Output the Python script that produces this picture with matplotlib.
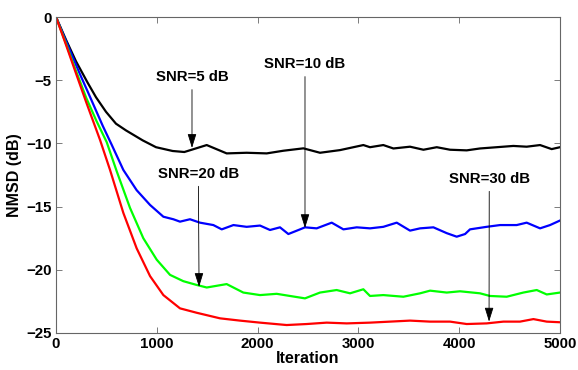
"""NMSD learning curves for four SNR levels."""

import matplotlib
matplotlib.use("Agg")
import matplotlib.pyplot as plt

plt.rcParams["font.family"] = ["Liberation Sans", "DejaVu Sans"]
plt.rcParams["font.weight"] = "bold"

# ---------------------------------------------------------------------------
# Data
# ---------------------------------------------------------------------------
snr5_x = [0, 99, 198, 314, 397, 496, 595, 694, 860, 992, 1157, 1273, 1346,
          1495, 1693, 1891, 2090, 2255, 2454, 2619, 2817, 3049, 3115, 3247,
          3347, 3512, 3645, 3777, 3909, 4074, 4206, 4372, 4537, 4669, 4802,
          4917, 5000]
snr5_y = [0, -1.8, -3.5, -5.2, -6.35, -7.5, -8.44, -8.97, -9.76, -10.3,
          -10.6, -10.68, -10.5, -10.13, -10.79, -10.74, -10.79, -10.58,
          -10.39, -10.74, -10.53, -10.13, -10.3, -10.13, -10.4, -10.26,
          -10.5, -10.3, -10.5, -10.55, -10.4, -10.3, -10.2, -10.26, -10.13,
          -10.45, -10.3]

snr10_x = [0, 99, 231, 331, 463, 552, 668, 800, 933, 1065, 1164, 1230, 1329,
           1428, 1561, 1644, 1760, 1891, 2024, 2123, 2222, 2305, 2421, 2470,
           2586, 2735, 2851, 2983, 3115, 3247, 3380, 3512, 3612, 3744, 3876,
           3975, 4058, 4107, 4272, 4405, 4570, 4669, 4802, 4901, 5000]
snr10_y = [0, -1.9, -4.4, -6.2, -8.6, -10.1, -12.1, -13.7, -14.87, -15.8,
           -16.0, -16.19, -16.0, -16.27, -16.46, -16.8, -16.46, -16.6, -16.5,
           -16.85, -16.64, -17.17, -16.8, -16.64, -16.72, -16.27, -16.8,
           -16.64, -16.72, -16.6, -16.27, -16.9, -16.72, -16.64, -17.1,
           -17.38, -17.17, -16.8, -16.6, -16.46, -16.46, -16.27, -16.72,
           -16.46, -16.1]

snr20_x = [0, 99, 200, 300, 400, 503, 602, 734, 866, 999, 1131, 1263, 1396,
           1495, 1693, 1858, 2024, 2189, 2321, 2470, 2619, 2784, 2917, 3049,
           3115, 3247, 3446, 3612, 3711, 3876, 4008, 4206, 4305, 4471, 4636,
           4769, 4868, 5000]
snr20_y = [0, -2.1, -4.3, -6.4, -8.2, -9.9, -12.2, -15.1, -17.5, -19.2,
           -20.4, -20.9, -21.2, -21.4, -21.13, -21.8, -22.0, -21.9, -22.07,
           -22.26, -21.8, -21.6, -21.86, -21.54, -22.07, -22.0, -22.13,
           -21.86, -21.65, -21.8, -21.7, -21.86, -22.07, -22.13, -21.8, -21.6,
           -21.95, -21.8]

snr30_x = [0, 99, 200, 300, 437, 536, 668, 800, 933, 1065, 1230, 1396, 1627,
           1825, 2024, 2288, 2487, 2685, 2884, 3115, 3313, 3512, 3711, 3909,
           4074, 4272, 4438, 4603, 4736, 4868, 5000]
snr30_y = [0, -2.2, -4.5, -6.75, -9.73, -12.1, -15.5, -18.3, -20.5, -22.0,
           -23.05, -23.4, -23.84, -24.02, -24.18, -24.37, -24.29, -24.18,
           -24.24, -24.18, -24.1, -24.02, -24.1, -24.1, -24.29, -24.24, -24.1,
           -24.1, -23.9, -24.1, -24.15]

# label text, text position, arrow tip
labels = ["SNR=5 dB", "SNR=10 dB", "SNR=20 dB", "SNR=30 dB"]
label_xy = [(1349, -4.75), (2470, -3.72), (1412, -12.4), (4298, -12.8)]
tip_xy = [(1349, -10.36), (2470, -16.7), (1419, -21.36), (4296, -24.1)]

# ---------------------------------------------------------------------------
# Figure
# ---------------------------------------------------------------------------
fig = plt.figure(figsize=(5.78, 3.70), dpi=100)
ax = fig.add_axes([0.0969, 0.1, 0.872, 0.854])

lw = 1.6
ax.plot(snr5_x, snr5_y, color="black", lw=lw)
ax.plot(snr10_x, snr10_y, color="blue", lw=lw)
ax.plot(snr20_x, snr20_y, color="#00ff00", lw=lw)
ax.plot(snr30_x, snr30_y, color="red", lw=lw)

for text, (tx, ty), (px, py) in zip(labels, label_xy, tip_xy):
    ax.annotate(
        text, xy=(px, py), xytext=(tx, ty),
        ha="center", va="center", fontsize=10.8, fontweight="bold",
        arrowprops=dict(arrowstyle="-|>,head_length=0.8,head_width=0.25",
                        color="black", lw=0.6, shrinkA=2, shrinkB=0),
    )

ax.set_xlim(0, 5000)
ax.set_ylim(-25, 0)
ax.set_xticks([0, 1000, 2000, 3000, 4000, 5000])
ax.set_yticks([-25, -20, -15, -10, -5, 0])
ax.tick_params(direction="in", top=True, right=True, length=4,
               width=0.6, color="0.4", labelsize=10.8, pad=3)
for lab in ax.get_xticklabels() + ax.get_yticklabels():
    lab.set_fontweight("bold")
for spine in ax.spines.values():
    spine.set_color("0.4")
    spine.set_linewidth(0.8)

ax.set_xlabel("Iteration", fontsize=11.5, fontweight="bold", labelpad=0)
ax.set_ylabel("NMSD (dB)", fontsize=11.5, fontweight="bold", labelpad=3)

fig.savefig("out.png", dpi=100)
